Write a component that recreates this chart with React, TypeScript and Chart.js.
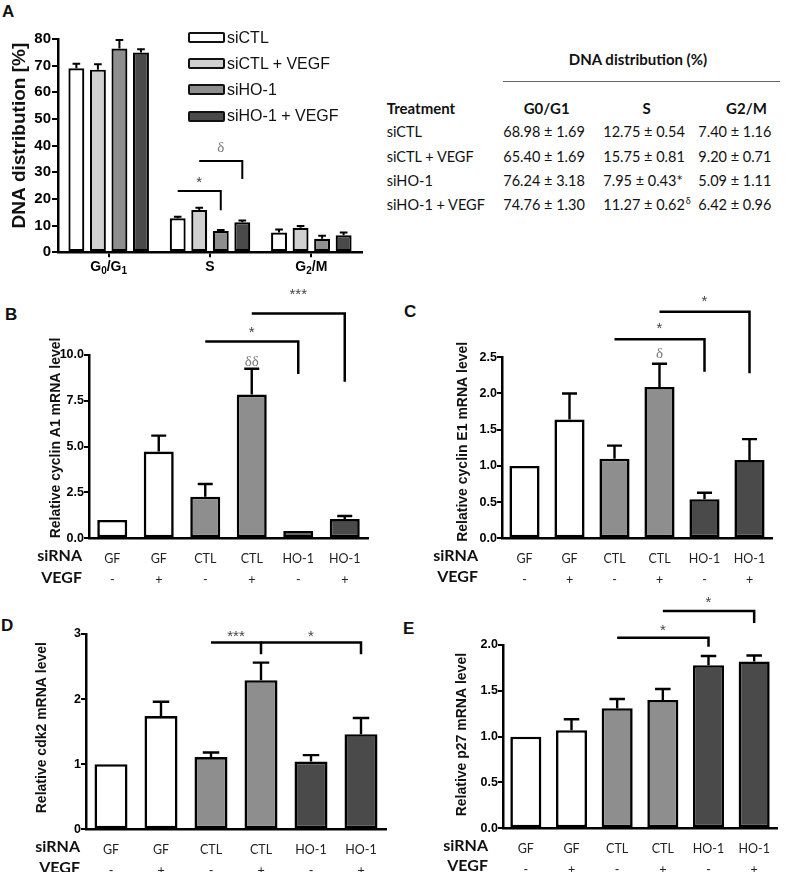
import React, { useEffect, useRef } from 'react';
import { Chart, registerables } from 'chart.js';

Chart.register(...registerables);

// ---------------- Panel A data ----------------
const phaseLabels = ['G₀/G₁', 'S', 'G₂/M'];
const seriesNamesA = ['siCTL', 'siCTL + VEGF', 'siHO-1', 'siHO-1 + VEGF'];
const siCTL = [69.0, 12.75, 7.4];
const siCTLErr = [1.7, 0.54, 1.16];
const siCTLVEGF = [68.5, 15.9, 9.2];
const siCTLVEGFErr = [2.0, 0.81, 0.71];
const siHO1 = [76.4, 7.95, 5.09];
const siHO1Err = [3.2, 0.43, 1.11];
const siHO1VEGF = [74.9, 11.27, 6.42];
const siHO1VEGFErr = [1.3, 0.62, 0.96];

// ---------------- Table data ----------------
const tableTitle = 'DNA distribution (%)';
const tableHeaders = ['Treatment', 'G0/G1', 'S', 'G2/M'];
const tableTreatments = ['siCTL', 'siCTL + VEGF', 'siHO-1', 'siHO-1 + VEGF'];
const tableG0G1 = ['68.98 ± 1.69', '65.40 ± 1.69', '76.24 ± 3.18', '74.76 ± 1.30'];
const tableS = ['12.75 ± 0.54', '15.75 ± 0.81', '7.95 ± 0.43*', '11.27 ± 0.62'];
const tableSSup = ['', '', '', 'δ'];
const tableG2M = ['7.40 ± 1.16', '9.20 ± 0.71', '5.09 ± 1.11', '6.42 ± 0.96'];

// ---------------- Panels B–E data ----------------
const siRNALabels = ['GF', 'GF', 'CTL', 'CTL', 'HO-1', 'HO-1'];
const vegfLabels = ['-', '+', '-', '+', '-', '+'];

const cyclinA1 = [1.0, 4.73, 2.27, 7.84, 0.4, 1.05];
const cyclinA1Err = [0, 0.87, 0.69, 1.41, 0, 0.17];
const cyclinE1 = [1.0, 1.64, 1.1, 2.09, 0.54, 1.08];
const cyclinE1Err = [0, 0.36, 0.18, 0.32, 0.09, 0.29];
const cdk2 = [1.0, 1.74, 1.11, 2.29, 1.04, 1.46];
const cdk2Err = [0, 0.22, 0.07, 0.27, 0.1, 0.25];
const p27 = [1.0, 1.07, 1.31, 1.4, 1.78, 1.82];
const p27Err = [0, 0.12, 0.1, 0.12, 0.1, 0.065];

type Bracket = {
  fromCat: number; toCat: number; fromSet: number; toSet: number;
  top: number; bottom: number; label: string; labelY: number;
};
type Mark = { cat: number; set: number; y: number; label: string };

const bracketsA: Bracket[] = [
  { fromCat: 1, toCat: 1, fromSet: 0, toSet: 2, top: 23, bottom: 15.8, label: '*', labelY: 27.8 },
  { fromCat: 1, toCat: 1, fromSet: 1, toSet: 3, top: 34.2, bottom: 27.5, label: 'δ', labelY: 39.4 },
];
const bracketsB: Bracket[] = [
  { fromCat: 2, toCat: 4, fromSet: 0, toSet: 0, top: 10.73, bottom: 8.96, label: '*', labelY: 11.47 },
  { fromCat: 3, toCat: 5, fromSet: 0, toSet: 0, top: 12.27, bottom: 8.54, label: '***', labelY: 13.5 },
];
const marksB: Mark[] = [{ cat: 3, set: 0, y: 9.7, label: 'δδ' }];
const bracketsC: Bracket[] = [
  { fromCat: 2, toCat: 4, fromSet: 0, toSet: 0, top: 2.75, bottom: 2.3, label: '*', labelY: 2.95 },
  { fromCat: 3, toCat: 5, fromSet: 0, toSet: 0, top: 3.13, bottom: 2.28, label: '*', labelY: 3.33 },
];
const marksC: Mark[] = [{ cat: 3, set: 0, y: 2.56, label: 'δ' }];
const bracketsD: Bracket[] = [
  { fromCat: 2, toCat: 3, fromSet: 0, toSet: 0, top: 2.87, bottom: 2.69, label: '***', labelY: 3.03 },
  { fromCat: 3, toCat: 5, fromSet: 0, toSet: 0, top: 2.87, bottom: 2.69, label: '*', labelY: 3.03 },
];
const bracketsE: Bracket[] = [
  { fromCat: 2, toCat: 4, fromSet: 0, toSet: 0, top: 2.08, bottom: 1.98, label: '*', labelY: 2.2 },
  { fromCat: 3, toCat: 5, fromSet: 0, toSet: 0, top: 2.37, bottom: 2.24, label: '*', labelY: 2.51 },
];

// ---------------- Styles ----------------
const ARIAL = '"Liberation Sans"';
const CAL = 'Lato';
const colorsA = ['#ffffff', '#d0d0d0', '#8e8e8e', '#4a4a4a'];
const conditionColor: Record<string, string> = { GF: '#ffffff', CTL: '#8e8e8e', 'HO-1': '#4a4a4a' };

interface DecorSpec {
  title: string;
  titleFont: string;
  titleOffset: number;
  titleShift: number;
  errors: number[][];
  errLine: number;
  capRatio: number;
  brackets: Bracket[];
  bracketLine: number;
  marks: Mark[];
  subLabels?: string[];
  subSize?: number;
  subGap?: number;
}

function drawSymbol(ctx: CanvasRenderingContext2D, label: string, x: number, cy: number) {
  ctx.save();
  ctx.textAlign = 'center';
  ctx.textBaseline = 'alphabetic';
  if (label.includes('δ')) {
    const s = 15;
    ctx.font = `${s}px "Liberation Serif"`;
    ctx.fillStyle = '#7a7a7a';
    ctx.fillText(label, x, cy + s * 0.34);
  } else {
    const s = 15;
    ctx.font = `${s}px ${ARIAL}`;
    ctx.fillStyle = '#444';
    ctx.fillText(label, x, cy + s * 0.57);
  }
  ctx.restore();
}

function drawSubscripted(ctx: CanvasRenderingContext2D, text: string, cx: number, cy: number, size: number) {
  const subs = '₀₁₂₃₄₅₆₇₈₉';
  const parts = Array.from(text).map((ch) => {
    const k = subs.indexOf(ch);
    return k >= 0 ? { t: String(k), sub: true } : { t: ch, sub: false };
  });
  const big = `bold ${size}px ${ARIAL}`;
  const small = `bold ${Math.round(size * 0.68)}px ${ARIAL}`;
  let total = 0;
  const widths = parts.map((p) => {
    ctx.font = p.sub ? small : big;
    const w = ctx.measureText(p.t).width;
    total += w;
    return w;
  });
  let x = cx - total / 2;
  ctx.save();
  ctx.fillStyle = '#000';
  ctx.textAlign = 'left';
  ctx.textBaseline = 'middle';
  parts.forEach((p, i) => {
    ctx.font = p.sub ? small : big;
    ctx.fillText(p.t, x, p.sub ? cy + size * 0.3 : cy);
    x += widths[i];
  });
  ctx.restore();
}

function makeDecor(d: DecorSpec) {
  return {
    id: 'decor',
    afterDatasetsDraw(chart: any) {
      const ctx: CanvasRenderingContext2D = chart.ctx;
      const y = chart.scales.y;
      ctx.save();
      ctx.strokeStyle = '#000';
      ctx.lineWidth = d.errLine;
      chart.data.datasets.forEach((ds: any, di: number) => {
        const meta = chart.getDatasetMeta(di);
        meta.data.forEach((el: any, i: number) => {
          const e = d.errors[di][i];
          if (!e) return;
          const v = ds.data[i] as number;
          const y0 = y.getPixelForValue(v);
          const y1 = y.getPixelForValue(v + e);
          const half = el.width * d.capRatio;
          ctx.beginPath();
          ctx.moveTo(el.x, y0);
          ctx.lineTo(el.x, y1);
          ctx.moveTo(el.x - half, y1);
          ctx.lineTo(el.x + half, y1);
          ctx.stroke();
        });
      });
      ctx.restore();
    },
    afterDraw(chart: any) {
      const ctx: CanvasRenderingContext2D = chart.ctx;
      const y = chart.scales.y;
      const area = chart.chartArea;
      const xOf = (set: number, cat: number) => (chart.getDatasetMeta(set).data[cat] as any).x;
      ctx.save();
      ctx.strokeStyle = '#000';
      ctx.lineWidth = d.bracketLine;
      ctx.lineJoin = 'miter';
      d.brackets.forEach((b) => {
        const x1 = xOf(b.fromSet, b.fromCat);
        const x2 = xOf(b.toSet, b.toCat);
        const yt = y.getPixelForValue(b.top);
        const yb = y.getPixelForValue(b.bottom);
        ctx.beginPath();
        ctx.moveTo(x1, yt);
        ctx.lineTo(x2, yt);
        ctx.lineTo(x2, yb);
        ctx.stroke();
        drawSymbol(ctx, b.label, (x1 + x2) / 2, y.getPixelForValue(b.labelY));
      });
      ctx.restore();
      d.marks.forEach((m) => drawSymbol(ctx, m.label, xOf(m.set, m.cat), y.getPixelForValue(m.y)));
      ctx.save();
      ctx.translate(area.left - d.titleOffset, (area.top + area.bottom) / 2 + d.titleShift);
      ctx.rotate(-Math.PI / 2);
      ctx.font = d.titleFont;
      ctx.fillStyle = '#111';
      ctx.textAlign = 'center';
      ctx.textBaseline = 'middle';
      ctx.fillText(d.title, 0, 0);
      ctx.restore();
      if (d.subLabels) {
        const xs = chart.scales.x;
        d.subLabels.forEach((t, i) => {
          drawSubscripted(ctx, t, xs.getPixelForValue(i), area.bottom + (d.subGap || 15), d.subSize || 14);
        });
      }
    },
  };
}

function ChartBox({ left, top, width, height, make }: { left: number; top: number; width: number; height: number; make: () => any }) {
  const ref = useRef<HTMLCanvasElement | null>(null);
  useEffect(() => {
    if (!ref.current) return;
    const chart = new Chart(ref.current, make());
    return () => chart.destroy();
  }, []);
  return (
    <div style={{ position: 'absolute', left, top, width, height }}>
      <canvas ref={ref} width={width} height={height} style={{ display: 'block', width, height }} />
    </div>
  );
}

function configA() {
  const values = [siCTL, siCTLVEGF, siHO1, siHO1VEGF];
  const errs = [siCTLErr, siCTLVEGFErr, siHO1Err, siHO1VEGFErr];
  return {
    type: 'bar',
    data: {
      labels: phaseLabels,
      datasets: values.map((v, i) => ({
        label: seriesNamesA[i],
        data: v,
        backgroundColor: colorsA[i],
        borderColor: '#000',
        borderWidth: 2.2,
        borderSkipped: false,
        categoryPercentage: 0.85,
        barPercentage: 0.74,
      })),
    },
    options: {
      animation: false,
      responsive: false,
      maintainAspectRatio: false,
      layout: { padding: { left: 0, top: 39, right: 8, bottom: 0 } },
      plugins: { legend: { display: false }, tooltip: { enabled: false } },
      scales: {
        x: {
          grid: { display: true, drawOnChartArea: false, drawTicks: true, tickLength: 5, offset: false, color: '#000', lineWidth: 2 },
          border: { display: true, color: '#000', width: 2.5 },
          ticks: { display: false },
          afterFit: (s: any) => { s.height = 27.7; },
        },
        y: {
          min: 0,
          max: 80,
          ticks: { stepSize: 10, color: '#000', padding: 1, font: { family: ARIAL, size: 15, weight: 'bold' }, callback: (v: any) => Number(v).toFixed(0) },
          grid: { display: true, drawOnChartArea: false, drawTicks: true, tickLength: 6, color: '#000', lineWidth: 2 },
          border: { display: true, color: '#000', width: 2.5 },
          afterFit: (s: any) => { s.width = 58; },
        },
      },
    },
    plugins: [
      makeDecor({
        title: 'DNA distribution [%]',
        titleFont: `bold 19px ${ARIAL}`,
        titleOffset: 38,
        titleShift: -10,
        errors: errs,
        errLine: 2,
        capRatio: 0.24,
        brackets: bracketsA,
        bracketLine: 2,
        marks: [],
        subLabels: phaseLabels,
        subSize: 14,
        subGap: 15,
      }),
    ],
  };
}

interface CondSpec {
  values: number[]; errors: number[]; max: number; step: number; decimals: number;
  title: string; titleOffset: number; titleShift: number;
  brackets: Bracket[]; marks: Mark[];
  yW: number; xH: number; padTop: number; padRight: number; catPct: number;
}

function conditionConfig(p: CondSpec) {
  return () => ({
    type: 'bar',
    data: {
      labels: siRNALabels.map((s, i) => [s, vegfLabels[i]]),
      datasets: [
        {
          data: p.values,
          backgroundColor: siRNALabels.map((s) => conditionColor[s]),
          borderColor: '#000',
          borderWidth: 2.6,
          borderSkipped: false,
          categoryPercentage: p.catPct,
          barPercentage: 1,
        },
      ],
    },
    options: {
      animation: false,
      responsive: false,
      maintainAspectRatio: false,
      layout: { padding: { left: 0, top: p.padTop, right: p.padRight, bottom: 0 } },
      plugins: { legend: { display: false }, tooltip: { enabled: false } },
      scales: {
        x: {
          grid: { display: false, drawTicks: false },
          border: { display: true, color: '#000', width: 2.5 },
          ticks: { color: '#222', padding: 10, font: { family: CAL, size: 12.5, lineHeight: 1.68 }, maxRotation: 0, autoSkip: false },
          afterFit: (s: any) => { s.height = p.xH; },
        },
        y: {
          min: 0,
          max: p.max,
          ticks: { stepSize: p.step, color: '#000', padding: 0, font: { family: ARIAL, size: 12.5, weight: 'bold' }, callback: (v: any) => Number(v).toFixed(p.decimals) },
          grid: { display: true, drawOnChartArea: false, drawTicks: true, tickLength: 5, color: '#000', lineWidth: 2 },
          border: { display: true, color: '#000', width: 2.5 },
          afterFit: (s: any) => { s.width = p.yW; },
        },
      },
    },
    plugins: [
      makeDecor({
        title: p.title,
        titleFont: `bold 14px ${ARIAL}`,
        titleOffset: p.titleOffset,
        titleShift: p.titleShift,
        errors: [p.errors],
        errLine: 2.4,
        capRatio: 0.25,
        brackets: p.brackets,
        bracketLine: 2.5,
        marks: p.marks,
      }),
    ],
  });
}

const txt = (extra: React.CSSProperties): React.CSSProperties => ({
  position: 'absolute',
  whiteSpace: 'nowrap',
  lineHeight: '20px',
  height: 20,
  color: '#111',
  ...extra,
});

function RowHeads({ right, y1, y2 }: { right: number; y1: number; y2: number }) {
  const st = (cy: number): React.CSSProperties => ({
    position: 'absolute', left: right - 80, width: 80, top: cy - 10, height: 20, lineHeight: '20px',
    textAlign: 'right', fontFamily: CAL, fontWeight: 700, fontSize: 16, color: '#111',
  });
  return (
    <>
      <div style={st(y1)}>siRNA</div>
      <div style={st(y2)}>VEGF</div>
    </>
  );
}

function PanelLetter({ letter, left, top }: { letter: string; left: number; top: number }) {
  return (
    <div style={{ position: 'absolute', left, top, fontFamily: ARIAL, fontWeight: 700, fontSize: 17, lineHeight: '20px', color: '#111' }}>
      {letter}
    </div>
  );
}

export default function App() {
  const rowY = (i: number) => 132.3 + i * 24.3;
  return (
    <div style={{ position: 'absolute', left: 0, top: 0, width: 787, height: 872, background: '#fff', overflow: 'hidden' }}>
      <PanelLetter letter="A" left={2} top={2} />
      <PanelLetter letter="B" left={5} top={305} />
      <PanelLetter letter="C" left={404} top={302} />
      <PanelLetter letter="D" left={1} top={616} />
      <PanelLetter letter="E" left={403} top={619} />

      <ChartBox left={0} top={0} width={370} height={280} make={configA} />

      {seriesNamesA.map((n, i) => (
        <React.Fragment key={n}>
          <div style={{ position: 'absolute', left: 188, top: 37.5 + i * 26.2 - 5.5, width: 37, height: 11, boxSizing: 'border-box', border: '2.5px solid #111', borderRadius: 2, background: colorsA[i] }} />
          <div style={txt({ left: 227, top: 37.5 + i * 26.2 - 10, fontFamily: ARIAL, fontSize: 16 })}>{n}</div>
        </React.Fragment>
      ))}

      <div style={txt({ left: 538, width: 200, top: 49, textAlign: 'center', fontFamily: CAL, fontWeight: 700, fontSize: 15 })}>{tableTitle}</div>
      <div style={{ position: 'absolute', left: 503, top: 81, width: 277, height: 1, background: '#666' }} />
      <div style={txt({ left: 386.7, top: 97.7, fontFamily: CAL, fontWeight: 700, fontSize: 15 })}>{tableHeaders[0]}</div>
      {[546.7, 646.7, 746.5].map((cx, i) => (
        <div key={i} style={txt({ left: cx - 40, width: 80, top: 97.7, textAlign: 'center', fontFamily: CAL, fontWeight: 700, fontSize: 15 })}>
          {tableHeaders[i + 1]}
        </div>
      ))}
      {tableTreatments.map((t, i) => (
        <React.Fragment key={t}>
          <div style={txt({ left: 386.7, top: rowY(i) - 10, fontFamily: CAL, fontSize: 14.5 })}>{t}</div>
          <div style={txt({ left: 503.3, top: rowY(i) - 10, fontFamily: CAL, fontSize: 14.5 })}>{tableG0G1[i]}</div>
          <div style={txt({ left: 603.3, top: rowY(i) - 10, fontFamily: CAL, fontSize: 14.5 })}>
            {tableS[i]}
            {tableSSup[i] ? (
              <span style={{ position: 'relative', top: -6, fontSize: 9, lineHeight: 0, marginLeft: 1 }}>{tableSSup[i]}</span>
            ) : null}
          </div>
          <div style={txt({ left: 698.3, top: rowY(i) - 10, fontFamily: CAL, fontSize: 14.5 })}>{tableG2M[i]}</div>
        </React.Fragment>
      ))}

      <ChartBox
        left={0} top={280} width={390} height={310}
        make={conditionConfig({
          values: cyclinA1, errors: cyclinA1Err, max: 10, step: 2.5, decimals: 1,
          title: 'Relative cyclin A1 mRNA level', titleOffset: 33, titleShift: -8.7,
          brackets: bracketsB, marks: marksB, yW: 89, xH: 51.7, padTop: 75, padRight: 22, catPct: 0.645,
        })}
      />
      <ChartBox
        left={390} top={280} width={397} height={310}
        make={conditionConfig({
          values: cyclinE1, errors: cyclinE1Err, max: 2.5, step: 0.5, decimals: 1,
          title: 'Relative cyclin E1 mRNA level', titleOffset: 39, titleShift: -6,
          brackets: bracketsC, marks: marksC, yW: 112, xH: 51.7, padTop: 77.3, padRight: 15, catPct: 0.67,
        })}
      />
      <ChartBox
        left={390} top={585} width={397} height={287}
        make={conditionConfig({
          values: p27, errors: p27Err, max: 2.0, step: 0.5, decimals: 1,
          title: 'Relative p27 mRNA level', titleOffset: 41, titleShift: -2,
          brackets: bracketsE, marks: [], yW: 113, xH: 43.7, padTop: 60, padRight: 10, catPct: 0.68,
        })}
      />
      <ChartBox
        left={0} top={600} width={390} height={272}
        make={conditionConfig({
          values: cdk2, errors: cdk2Err, max: 3, step: 1, decimals: 0,
          title: 'Relative cdk2 mRNA level', titleOffset: 44, titleShift: -4,
          brackets: bracketsD, marks: [], yW: 86, xH: 42.7, padTop: 34, padRight: 4, catPct: 0.66,
        })}
      />

      <RowHeads right={82} y1={555} y2={577} />
      <RowHeads right={478} y1={555} y2={576} />
      <RowHeads right={80} y1={846} y2={866.5} />
      <RowHeads right={488} y1={845} y2={865} />
    </div>
  );
}
